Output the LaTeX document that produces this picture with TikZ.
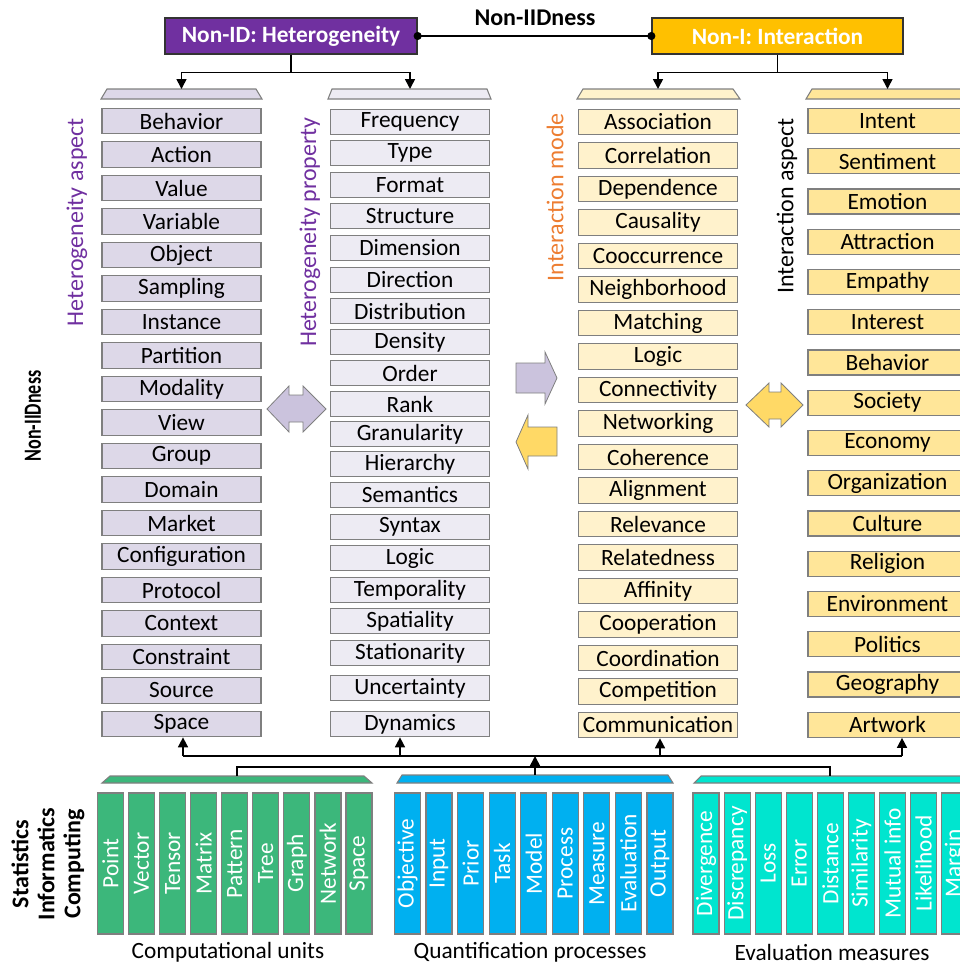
\documentclass[tikz,border=0pt]{standalone}
\usepackage{fontspec}
\usepackage{graphicx}
\setmainfont{Carlito}
\usetikzlibrary{arrows.meta}

\definecolor{hetpurple}{HTML}{7030A0}
\definecolor{intgold}{HTML}{FFC000}
\definecolor{aspfill}{HTML}{DDD8E8}
\definecolor{propfill}{HTML}{EDEBF3}
\definecolor{modefill}{HTML}{FFF2CC}
\definecolor{iaspfill}{HTML}{FFE699}
\definecolor{unitgreen}{HTML}{3CB77B}
\definecolor{procblue}{HTML}{00B0F0}
\definecolor{meascyan}{HTML}{00E5CF}
\definecolor{modeorange}{HTML}{ED7D31}
\definecolor{edgegray}{HTML}{7F7F7F}
\definecolor{hetarrow}{HTML}{CBC3DD}
\definecolor{intarrow}{HTML}{FFD966}

\newcommand{\unitpx}{0.75pt}

\begin{document}
\begin{tikzpicture}[x=0.75pt, y=-0.75pt,
    every node/.style={font=\fontsize{17.5}{20}\selectfont},
    item/.style={draw=edgegray, line width=0.9pt, minimum width=159*\unitpx,
        minimum height=25.5*\unitpx, inner sep=0pt},
    bar/.style={draw=edgegray, line width=0.9pt, rotate=90, minimum width=141*\unitpx,
        minimum height=26*\unitpx, inner sep=0pt, text=white},
    head/.style={draw=black!80, line width=1pt, minimum width=252*\unitpx,
        minimum height=36*\unitpx, text=white, font=\fontsize{17.5}{20}\selectfont\bfseries},
    arr/.style={line width=1.2pt, -{Triangle[length=7.5pt, width=7.5pt]}},
    link/.style={line width=1.2pt},
    side/.style={rotate=90, anchor=east, inner sep=0pt, font=\fontsize{18}{20}\selectfont},
    capshape/.style={draw=edgegray, line width=0.8pt},
    bigarrow/.style={draw=edgegray, line width=0.6pt},
]
    \useasboundingbox (0,0) rectangle (960,964);

    % top: the two kinds of non-IIDness
    \node[head, fill=hetpurple] (hethead) at (291,36) {Non-ID: Heterogeneity};
    \node[head, fill=intgold, minimum width=251*\unitpx] (inthead) at (777.5,36) {Non-I: Interaction};
    \draw[link, {Circle[length=6pt]}-{Circle[length=6pt]}, shorten <=-3pt, shorten >=-3pt]
        (hethead.east) -- (inthead.west);
    \node[font=\fontsize{18}{20}\selectfont\bfseries] (niid) at (535,18) {Non-IIDness};

    % column caps
    \draw[capshape, fill=aspfill] (107,89) -- (256,89) -- (262,99) -- (101,99) -- cycle;
    \draw[capshape, fill=propfill] (332,89) -- (487,89) -- (491,99) -- (328,99) -- cycle;
    \draw[capshape, fill=modefill] (583,89) -- (733,89) -- (740,99) -- (577,99) -- cycle;
    \draw[capshape, fill=iaspfill] (812,89) -- (975,89) -- (980,99) -- (806,99) -- cycle;
    \coordinate (asptop) at (181.5,89);
    \coordinate (proptop) at (410,89);
    \coordinate (modetop) at (658,89);
    \coordinate (iasptop) at (887.5,89);

    \draw[arr] (hethead.south) -- ++(0,18) -| (asptop);
    \draw[arr] (hethead.south) -- ++(0,18) -| (proptop);
    \draw[arr] (inthead.south) -- ++(0,18) -| (modetop);
    \draw[arr] (inthead.south) -- ++(0,18) -| (iasptop);

    % heterogeneity aspect
    \foreach \txt [count=\i] in {Behavior, Action, Value, Variable, Object, Sampling,
        Instance, Partition, Modality, View, Group, Domain, Market, Configuration,
        Protocol, Context, Constraint, Source, Space}
        \node[item, fill=aspfill] (asp\i) at (181.5, {121+33.5*(\i-1)}) {\txt};

    % heterogeneity property
    \foreach \txt/\yy [count=\i] in {Frequency/122, Type/153, Format/185, Structure/216,
        Dimension/248, Direction/280, Distribution/311, Density/342, Order/373, Rank/404,
        Granularity/434, Hierarchy/464, Semantics/495, Syntax/527, Logic/558,
        Temporality/590, Spatiality/621, Stationarity/653, Uncertainty/688, Dynamics/724}
        \node[item, fill=propfill] (prop\i) at (410,\yy) {\txt};

    % interaction mode
    \foreach \txt [count=\i] in {Association, Correlation, Dependence, Causality,
        Cooccurrence, Neighborhood, Matching, Logic, Connectivity, Networking, Coherence,
        Alignment, Relevance, Relatedness, Affinity, Cooperation, Coordination,
        Competition, Communication}
        \node[item, fill=modefill] (mode\i) at (658, {122+33.5*(\i-1)}) {\txt};

    % interaction aspect
    \foreach \txt [count=\i] in {Intent, Sentiment, Emotion, Attraction, Empathy,
        Interest, Behavior, Society, Economy, Organization, Culture, Religion,
        Environment, Politics, Geography, Artwork}
        \node[item, fill=iaspfill, minimum height=25*\unitpx] (iasp\i) at (887.5, {121+40.25*(\i-1)}) {\txt};

    % column titles
    \node[side, text=hetpurple] (asplabel) at (77,118) {Heterogeneity aspect};
    \node[side, text=hetpurple] (proplabel) at (310,117) {Heterogeneity property};
    \node[side, text=modeorange] (modelabel) at (555,113) {Interaction mode};
    \node[side] (iasplabel) at (787,118) {Interaction aspect};
    \node[rotate=90, font=\fontsize{18.5}{20}\selectfont\bfseries] (niidside) at (33,416)
        {\scalebox{0.73}[1]{Non-IIDness}};

    % block arrows
    \draw[bigarrow, fill=hetarrow] (267,409) -- (289,386) -- (289,395) -- (303,395) -- (303,386)
        -- (326,409) -- (303,432) -- (303,422) -- (289,422) -- (289,432) -- cycle;
    \draw[bigarrow, fill=hetarrow] (516,363) -- (545,363) -- (545,352) -- (557,378)
        -- (545,404) -- (545,393) -- (516,393) -- cycle;
    \draw[bigarrow, fill=intarrow] (557,427) -- (528,427) -- (528,415) -- (516,442)
        -- (528,469) -- (528,456) -- (557,456) -- cycle;
    \draw[bigarrow, fill=intarrow] (746,405) -- (769,383) -- (769,392) -- (781,392) -- (781,383)
        -- (803,405) -- (781,427) -- (781,419) -- (769,419) -- (769,427) -- cycle;

    % bottom blocks
    \draw[capshape, fill=unitgreen] (110,776) -- (364,776) -- (372,783) -- (102,783) -- cycle;
    \draw[capshape, fill=procblue] (402,775) -- (668,775) -- (673,783) -- (397,783) -- cycle;
    \draw[capshape, fill=meascyan] (701,776) -- (990,776) -- (995,783) -- (694,783) -- cycle;

    \foreach \txt [count=\i] in {Point, Vector, Tensor, Matrix, Pattern, Tree, Graph,
        Network, Space}
        \node[bar, fill=unitgreen] (unit\i) at ({110.5+31.06*(\i-1)}, 863.5) {\txt};
    \foreach \txt [count=\i] in {Objective, Input, Prior, Task, Model, Process, Measure,
        Evaluation, Output}
        \node[bar, fill=procblue] (proc\i) at ({407.5+31.56*(\i-1)}, 863.5) {\txt};
    \foreach \txt [count=\i] in {Divergence, Discrepancy, Loss, Error, Distance,
        Similarity, Mutual info, Likelihood, Margin}
        \node[bar, fill=meascyan] (meas\i) at ({706+31.1*(\i-1)}, 863.5) {\txt};

    \node (unitcap) at (228,952) {Computational units};
    \node (proccap) at (530,952) {Quantification processes};
    \node (meascap) at (832,952) {Evaluation measures};
    \node[rotate=90, align=center, font=\fontsize{18}{19.5}\selectfont\bfseries] (fields)
        at (48,864) {Statistics\\Informatics\\Computing};

    % connectors up to the columns
    \coordinate (unittop) at (237,776);
    \coordinate (proctop) at (535,775);
    \coordinate (meastop) at (830,776);
    \coordinate (bus1) at (183,756);
    \coordinate (bus2) at (400,756);
    \coordinate (bus3) at (660,756);
    \coordinate (bus4) at (902,756);

    \draw[link] (unittop) -- ++(0,-9) -| (meastop);
    \draw[link] (bus1) -- (bus4);
    \draw[arr] (proctop) -- (proctop |- bus1);
    \foreach \b/\n in {bus1/asp19, bus2/prop20, bus3/mode19, bus4/iasp16}
        \draw[arr] (\b) -- (\n.south -| \b);
\end{tikzpicture}
\end{document}
